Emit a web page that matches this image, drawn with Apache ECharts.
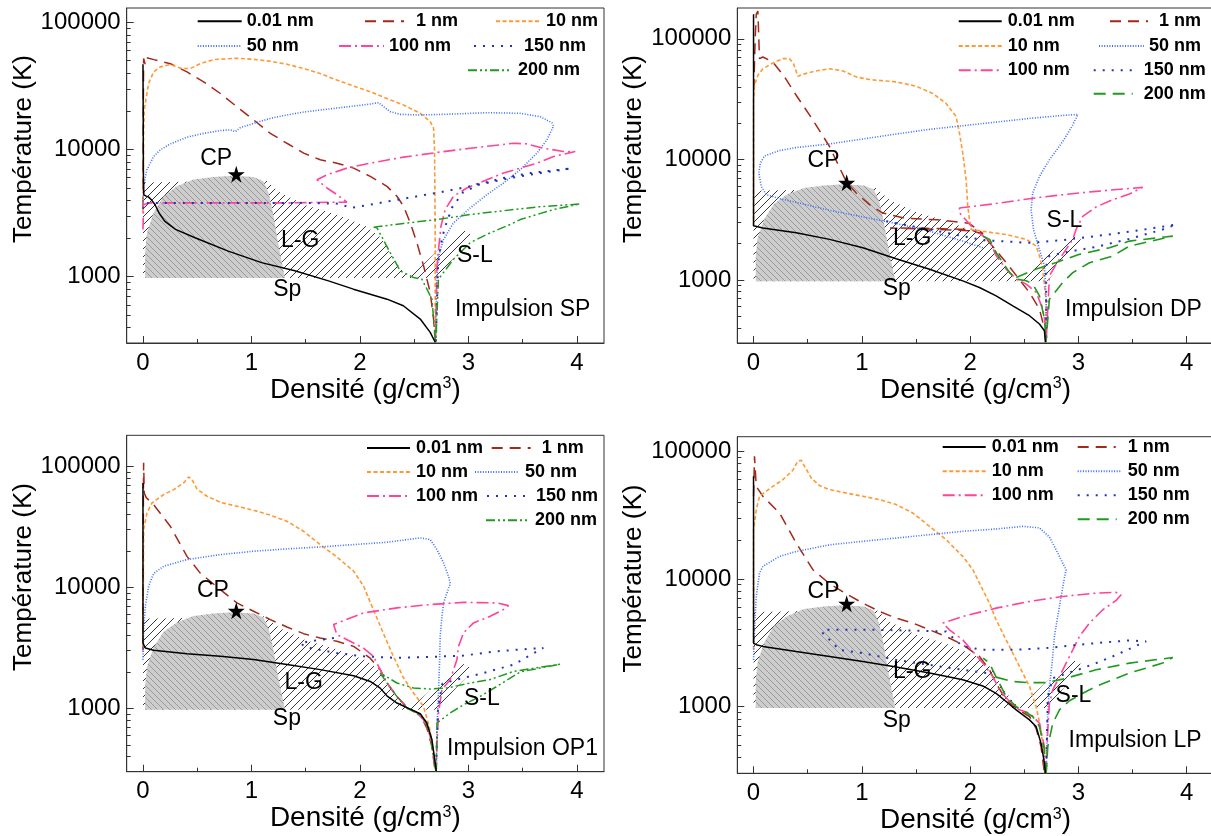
<!DOCTYPE html>
<html><head><meta charset="utf-8">
<script src="https://cdn.jsdelivr.net/npm/echarts@6/dist/echarts.min.js"></script>
<style>html,body{margin:0;padding:0;background:#fff}#c{width:1211px;height:836px}</style>
</head><body><div id="c"></div><script>
const FONT = "'Liberation Sans', Arial, sans-serif";
const X_TICKS = [0, 1, 2, 3, 4];
const X_MINOR = [0.5, 1.5, 2.5, 3.5];
const Y_TICKS = [1000, 10000, 100000];
const Y_MINOR = [400,500,600,700,800,900,2000,3000,4000,5000,6000,7000,8000,9000,20000,30000,40000,50000,60000,70000,80000,90000];
const SERIES_KEYS = ['0.01 nm','1 nm','10 nm','50 nm','100 nm','150 nm','200 nm'];

// Phase-diagram regions (density g/cm3, temperature K)
const spinodalRegion = [[0.02,975],[0.02,1545],[0.037,2210],[0.098,3180],[0.19,4290],[0.313,5130],[0.466,5800],[0.65,6080],[0.835,6220],[1.02,6080],[1.11,5630],[1.158,4560],[1.198,3180],[1.24,1960],[1.28,1290],[1.31,975]];
const liquidGasRegion = [[0,975],[0,5500],[0.5,5600],[1.13,5780],[1.255,4630],[1.5,3650],[1.78,3100],[2.06,2480],[2.2,2000],[2.28,1500],[2.36,1200],[2.45,975]];
const solidLiquidRegion = [[2.45,975],[2.71,975],[2.88,1450],[3.05,2100],[2.95,2330],[2.75,1700]];
const criticalPoint = [0.86, 6400];

// Panel 1 : Impulsion SP
const p1_001 = [[0.0,47000],[0.002,20000],[0.004,6000],[0.008,4400],[0.03,4300],[0.05,4240],[0.08,4000],[0.11,3690],[0.15,3150],[0.2,2730],[0.3,2350],[0.48,2020],[0.786,1585],[1.093,1288],[1.4,1110],[1.71,925],[1.94,796],[2.25,664],[2.4,589],[2.556,463],[2.648,364],[2.694,304]];
const p1_1 = [[0.0,3500],[0.003,20000],[0.006,52000],[0.02,47000],[0.03,53000],[0.1,51000],[0.252,47400],[0.406,40800],[0.559,34100],[0.713,27600],[0.866,21700],[1.02,17100],[1.174,13400],[1.327,11200],[1.481,9360],[1.634,8300],[1.788,7810],[1.942,7140],[2.095,6150],[2.249,5130],[2.341,4290],[2.402,3580],[2.464,2650],[2.525,1850],[2.587,1213],[2.648,750],[2.679,463],[2.694,304]];
const p1_10 = [[0,3170],[0.006,13400],[0.012,20500],[0.031,26000],[0.052,33100],[0.098,40800],[0.16,44700],[0.252,46600],[0.298,45200],[0.359,43400],[0.436,43400],[0.528,47400],[0.651,51000],[0.866,52300],[1.02,51300],[1.174,49500],[1.327,46900],[1.481,43400],[1.634,39600],[1.788,35200],[1.942,31600],[2.095,28500],[2.249,25200],[2.402,22400],[2.556,19300],[2.648,16600],[2.679,14700],[2.688,9940],[2.694,2210],[2.694,304]];
const p1_50 = [[0,3580],[0.006,5130],[0.022,6150],[0.037,6940],[0.068,7810],[0.098,8810],[0.16,9940],[0.252,11070],[0.406,12500],[0.559,13400],[0.713,14100],[0.805,14260],[0.851,13840],[0.897,14860],[1.02,16060],[1.174,17580],[1.327,18700],[1.481,19720],[1.634,20460],[1.788,21200],[1.942,21980],[2.095,22800],[2.172,23350],[2.218,21740],[2.28,19860],[2.372,18920],[2.556,18700],[2.863,19020],[3.171,19500],[3.478,19270],[3.662,18130],[3.77,16250],[3.785,15310],[3.723,11900],[3.631,9360],[3.478,6940],[3.324,5450],[3.171,4420],[3.017,3470],[2.863,2650],[2.771,1960],[2.725,1450],[2.71,1010],[2.697,304]];
const p1_100 = [[0,2350],[0.006,3690],[0.068,3800],[0.713,3800],[1.327,3800],[1.788,3850],[1.88,3850],[1.788,4420],[1.696,4980],[1.604,5780],[1.696,6330],[1.88,7140],[2.095,7810],[2.402,8710],[2.71,9480],[3.017,10240],[3.416,11200],[3.539,11070],[3.693,10240],[3.877,9640],[3.985,9640],[3.785,8810],[3.631,7810],[3.324,6530],[3.171,5780],[2.986,4980],[2.863,4290],[2.786,3370],[2.747,2490],[2.725,1640],[2.71,1213],[2.697,304]];
const p1_150 = [[0,3400],[0.01,3800],[0.5,3800],[1.0,3800],[1.5,3800],[1.8,3750],[1.92,3470],[2.1,3690],[2.4,4100],[2.71,4560],[3.0,5100],[3.32,5970],[3.57,6530],[3.95,7100],[3.7,6600],[3.4,6000],[3.1,5300],[2.95,4600],[2.85,3500],[2.78,2400],[2.74,1700],[2.72,1200],[2.7,304]];
const p1_200 = [[2.126,2450],[2.4,2620],[2.71,2810],[3.017,3080],[3.63,3530],[4.03,3730],[3.785,3370],[3.478,2810],[3.385,2570],[3.17,2150],[3.017,1850],[2.863,1370],[2.724,954],[2.7,304],[2.694,324],[2.664,665],[2.571,954],[2.494,984],[2.371,1110],[2.279,1545],[2.157,2420],[2.126,2450]];

// Panel 2 : Impulsion DP
const p2_001 = [[0,160000],[0,2820],[0.086,2700],[0.394,2460],[0.702,2170],[1.009,1850],[1.317,1500],[1.625,1225],[1.932,982],[2.086,865],[2.24,738],[2.394,610],[2.548,505],[2.64,431],[2.686,379],[2.695,304]];
const p2_1 = [[0.002,37500],[0.015,100000],[0.025,160000],[0.04,170000],[0.055,68400],[0.086,70600],[0.178,64200],[0.286,48300],[0.394,34000],[0.548,21200],[0.702,12760],[0.855,6560],[0.948,5260],[1.071,4210],[1.194,3590],[1.4,3250],[1.7,3150],[1.99,2950],[2.12,2420],[2.0,2560],[1.6,2640],[1.26,2700],[1.6,2680],[2.0,2620],[2.117,2380],[2.333,1394],[2.548,787],[2.64,573],[2.687,392],[2.7,304]];
const p2_10 = [[0,2790],[0,31000],[0.009,41200],[0.04,49800],[0.086,56500],[0.178,63000],[0.271,68400],[0.332,68400],[0.369,62200],[0.409,48900],[0.455,50800],[0.578,54100],[0.702,56500],[0.825,54100],[0.948,48300],[1.071,45900],[1.317,43900],[1.502,40400],[1.655,35200],[1.778,29100],[1.871,22600],[1.902,16400],[1.932,11250],[1.963,6780],[1.978,4080],[1.994,3170],[2.01,2620],[2.117,2535],[2.333,2380],[2.518,2170],[2.61,1910],[2.64,1585],[2.671,1230],[2.702,655],[2.7,304]];
const p2_50 = [[2.117,1850],[1.932,2100],[1.625,2540],[1.317,2940],[1.009,3330],[0.702,3780],[0.394,4400],[0.24,4720],[0.117,5090],[0.071,5970],[0.049,7690],[0.062,9290],[0.102,10690],[0.24,11830],[0.394,12530],[0.702,13430],[1.009,14760],[1.317,16220],[1.625,17740],[1.932,19010],[2.24,20370],[2.548,21860],[2.855,23140],[2.994,23590],[2.948,19290],[2.855,14040],[2.732,9910],[2.64,7220],[2.578,5260],[2.563,3830],[2.585,2620],[2.64,1790],[2.686,1306],[2.702,693],[2.702,304]];
const p2_100 = [[2.702,392],[2.671,573],[2.61,788],[2.518,923],[2.426,1017],[2.333,1230],[2.241,1585],[2.18,2100],[2.025,2700],[1.902,3600],[1.902,3950],[2.24,4300],[2.548,4720],[2.855,5090],[3.163,5430],[3.594,5860],[3.471,5160],[3.317,4630],[3.163,4030],[3.04,3370],[2.978,2620],[2.948,2170],[2.855,1630],[2.794,1347],[2.732,1080],[2.702,304]];
const p2_150 = [[1.225,3070],[1.502,2750],[1.778,2460],[2.117,2140],[2.548,2030],[2.855,2140],[3.163,2310],[3.471,2510],[3.902,2880],[3.778,2620],[3.471,2190],[3.163,1880],[2.855,1680],[2.732,1580],[2.702,1306],[2.702,304]];
const p2_200 = [[2.12,2300],[2.18,2170],[2.241,1680],[2.302,1394],[2.364,1150],[2.426,1016],[2.518,984],[2.579,923],[2.64,738],[2.687,474],[2.70,304],null,[2.426,1050],[2.61,1230],[2.795,1394],[3.01,1630],[3.287,1850],[3.471,2100],[3.871,2310],[3.471,1910],[3.317,1580],[3.102,1390],[2.948,1150],[2.855,951],[2.732,693],[2.70,304]];

// Panel 3 : Impulsion OP1
const p3_001 = [[0,72800],[0,3470],[0.022,3150],[0.098,3020],[0.406,2830],[0.713,2690],[1.02,2530],[1.327,2300],[1.634,2090],[1.942,1860],[2.095,1670],[2.187,1470],[2.249,1270],[2.341,1107],[2.464,987],[2.556,903],[2.617,757],[2.664,551],[2.694,353],[2.704,301]];
const p3_1 = [[0.0,3000],[0.004,60000],[0.006,107000],[0.012,60000],[0.03,55000],[0.098,48200],[0.252,31900],[0.406,18000],[0.528,13100],[0.713,9570],[0.866,7430],[1.02,6340],[1.174,5410],[1.327,4700],[1.481,4140],[1.634,3810],[1.788,3580],[1.942,3250],[2.095,2600],[2.187,2090],[2.249,1620],[2.341,1256],[2.433,1026],[2.556,887],[2.617,688],[2.664,485],[2.694,301]];
const p3_10 = [[0,3250],[0.006,30000],[0.037,41100],[0.083,49700],[0.19,58300],[0.283,64100],[0.375,72800],[0.421,81600],[0.452,77600],[0.498,65000],[0.59,56500],[0.713,50400],[0.866,46700],[1.02,43300],[1.174,39400],[1.327,35100],[1.481,29000],[1.634,22500],[1.788,17800],[1.942,13600],[2.034,10200],[2.11,7000],[2.2,4500],[2.3,2800],[2.4,1800],[2.494,1340],[2.586,1040],[2.64,700],[2.685,400],[2.7,301]];
const p3_50 = [[0,2520],[0.006,4470],[0.022,6970],[0.052,10200],[0.098,12970],[0.19,14920],[0.406,16940],[0.713,18620],[1.02,19850],[1.327,20750],[1.634,21540],[1.942,22530],[2.249,23560],[2.556,25580],[2.648,24790],[2.71,20480],[2.771,15890],[2.817,12330],[2.833,10720],[2.802,8980],[2.771,7420],[2.756,5760],[2.74,3940],[2.734,2370],[2.725,1430],[2.716,914],[2.704,301]];
const p3_100 = [[2.694,332],[2.648,588],[2.586,807],[2.525,916],[2.433,1007],[2.341,1257],[2.249,1620],[2.187,2090],[2.125,2690],[2.033,3150],[1.91,3580],[1.788,4060],[1.757,4920],[2.033,6140],[2.341,6760],[2.648,7200],[2.955,7510],[3.263,7430],[3.37,7060],[3.323,6550],[3.201,5760],[3.047,5080],[2.955,4200],[2.909,3250],[2.894,2520],[2.832,1730],[2.756,1430],[2.724,916],[2.71,485],[2.703,301]];
const p3_150 = [[1.76,3810],[1.6,3650],[1.45,3470],[1.5,3200],[1.79,2860],[2.033,2690],[2.341,2610],[2.648,2660],[2.955,2730],[3.263,2960],[3.447,3050],[3.69,3160],[3.416,2300],[3.14,1960],[2.894,1730],[2.76,1600],[2.72,1000],[2.70,301]];
const p3_200 = [[2.703,301],[2.69,332],[2.65,588],[2.6,800],[2.52,916],[2.43,1007],[2.34,1257],[2.25,1620],[2.187,1960],[2.341,1620],[2.494,1475],[2.648,1445],[2.802,1475],[3.017,1620],[3.201,1730],[3.416,2020],[3.846,2320],[3.478,2000],[3.263,1520],[3.109,1256],[2.955,1071],[2.832,916],[2.71,757],[2.703,301]];

// Panel 4 : Impulsion LP
const p4_001 = [[0,63600],[0,3140],[0.025,3050],[0.086,2960],[0.394,2700],[0.702,2470],[1.009,2250],[1.317,2040],[1.625,1830],[1.932,1620],[2.117,1450],[2.24,1270],[2.332,1095],[2.425,942],[2.548,786],[2.609,697],[2.655,515],[2.686,360],[2.695,300]];
const p4_1 = [[0,44400],[0.009,91400],[0.025,53100],[0.086,44400],[0.24,32800],[0.394,19100],[0.548,11800],[0.702,9170],[0.855,7650],[1.009,6460],[1.163,5560],[1.317,4930],[1.471,4510],[1.625,3990],[1.778,3540],[1.932,3050],[2.086,2470],[2.178,1940],[2.24,1520],[2.332,1130],[2.455,931],[2.548,836],[2.609,676],[2.655,485],[2.686,300]];
const p4_10 = [[0,2780],[0,24300],[0.025,34800],[0.055,44400],[0.178,53100],[0.271,59900],[0.363,71000],[0.409,83600],[0.44,85000],[0.48,74000],[0.532,61800],[0.609,53800],[0.702,50000],[0.855,47100],[1.009,44400],[1.163,41800],[1.317,38200],[1.471,32800],[1.625,25800],[1.778,20300],[1.932,15000],[2.025,11800],[2.086,9280],[2.178,6460],[2.24,4780],[2.332,3330],[2.425,2320],[2.486,1830],[2.548,1440],[2.609,1000],[2.655,656],[2.686,360],[2.692,300]];
const p4_50 = [[0,2320],[0.009,3990],[0.025,7290],[0.055,11100],[0.086,12540],[0.24,15000],[0.394,16400],[0.702,18500],[1.009,19700],[1.317,20900],[1.625,22200],[1.932,23600],[2.24,24600],[2.486,25800],[2.64,25100],[2.732,21300],[2.794,16900],[2.855,13300],[2.886,11800],[2.871,10200],[2.84,7290],[2.809,5080],[2.778,3540],[2.757,2190],[2.732,1440],[2.717,887],[2.702,300]];
const p4_100 = [[2.695,300],[2.686,485],[2.64,740],[2.548,887],[2.455,942],[2.363,1095],[2.271,1350],[2.209,1720],[2.117,2190],[2.025,2700],[1.932,3330],[1.809,3990],[1.748,4510],[1.932,5080],[2.24,5900],[2.548,6660],[2.855,7290],[3.163,7740],[3.348,7840],[3.394,7510],[3.348,6780],[3.225,5730],[3.102,4510],[3.009,3540],[2.948,2780],[2.886,2190],[2.825,1720],[2.763,1350],[2.732,1060],[2.717,656],[2.702,300]];
const p4_150 = [[2.148,1830],[1.932,1940],[1.625,2120],[1.317,2320],[1.009,2620],[0.794,2780],[0.702,3330],[0.64,3760],[0.64,3990],[1.163,3990],[1.778,3870],[1.932,2960],[2.117,2780],[2.394,2780],[2.702,2870],[2.855,2960],[3.163,3140],[3.471,3300],[3.625,3240],[3.317,2470],[3.163,2190],[3.009,1960],[2.855,1770],[2.763,1670],[2.717,1200],[2.702,300]];
const p4_200 = [[2.695,300],[2.686,457],[2.64,697],[2.578,836],[2.486,931],[2.425,1000],[2.332,1200],[2.24,1700],[2.178,2190],[2.12,2400],null,[2.24,1700],[2.394,1570],[2.548,1540],[2.702,1540],[2.855,1640],[3.163,1940],[3.471,2190],[3.871,2420],[3.778,2190],[3.471,1830],[3.163,1440],[3.04,1270],[2.917,1110],[2.825,942],[2.763,740],[2.717,485],[2.702,300]];

const panelSeries = [
  [p1_001, p1_1, p1_10, p1_50, p1_100, p1_150, p1_200],
  [p2_001, p2_1, p2_10, p2_50, p2_100, p2_150, p2_200],
  [p3_001, p3_1, p3_10, p3_50, p3_100, p3_150, p3_200],
  [p4_001, p4_1, p4_10, p4_50, p4_100, p4_150, p4_200]
];

// Text annotations: [text, density, temperature]
const notesP1 = [['CP',0.675,8450],['L-G',1.45,1930],['S-L',3.06,1460],['Sp',1.33,782],['Impulsion SP',3.5,546]];
const notesP2 = [['CP',0.646,9770],['L-G',1.465,2190],['S-L',2.871,3130],['Sp',1.323,848],['Impulsion DP',3.508,565]];
const notesP3 = [['CP',0.645,9440],['L-G',1.481,1640],['S-L',3.124,1194],['Sp',1.327,817],['Impulsion OP1',3.499,465]];
const notesP4 = [['CP',0.646,7890],['L-G',1.465,1880],['S-L',2.954,1220],['Sp',1.323,776],['Impulsion LP',3.523,541]];
const panelNotes = [notesP1, notesP2, notesP3, notesP4];

// ---------- layout / style ----------
const panels = [
  {left:126.7, top:8, width:477.3, height:335, ymax:130000, yPad:53},
  {left:737.3, top:8, width:476.5, height:335, ymax:180000, yPad:53},
  {left:126.7, top:435.3, width:477.3, height:336.4, ymax:180000, yPad:53},
  {left:737.3, top:436.7, width:476.5, height:336.6, ymax:130000, yPad:53}
];
const baseStyles = {
  '0.01 nm': {color:'#000000', type:'solid', width:1.5},
  '1 nm':    {color:'#a3291a', type:[11,7], width:1.5},
  '10 nm':   {color:'#ff9933', type:[4,2.5], width:1.6},
  '50 nm':   {color:'#3b6cff', type:[1,1.6], width:1.6},
  '100 nm':  {color:'#ff4499', type:[12,4,2,4], width:1.6},
  '150 nm':  {color:'#2233bb', type:[2,7], width:2},
  '200 nm':  {color:'#1f9a1f', type:[9,3,2,3,2,3], width:1.5}
};
const dashed200 = {color:'#1f9a1f', type:[12,7], width:1.6};
// legend layout: [key, lineLeft, rowCenterY, lineWidth, textPad]
const legendLayout = [
  [['0.01 nm',196.7,19.3,44,0],['1 nm',364,19.3,39,7],['10 nm',495,19.3,44,1],['50 nm',196.7,44,44,0],['100 nm',338,44,45,0],['150 nm',473,44,40,5],['200 nm',467,68.3,43,2]],
  [['0.01 nm',957.7,19.3,43,1],['1 nm',1109,19.3,38,6],['10 nm',957.7,44,44,0],['50 nm',1098,44,45,0],['100 nm',957.7,68.3,44,0],['150 nm',1092.7,68.3,40,5],['200 nm',1092.7,91.7,39,6]],
  [['0.01 nm',366,446,43,1],['1 nm',490.7,446,39,6],['10 nm',366,470,43,1],['50 nm',474,470,44,1],['100 nm',366,494,43,1],['150 nm',486,494,39,5],['200 nm',485,518.3,42,2]],
  [['0.01 nm',941.7,445,43,1],['1 nm',1076.7,445,38,7],['10 nm',941.7,469.3,43,1],['50 nm',1076.7,469.3,44,1],['100 nm',941.7,493.3,43,1],['150 nm',1076.7,493.3,40,5],['200 nm',1076.7,517.3,39,6]]
];

function makeHatch(size, color, dir, bg, lw) {
  const c = document.createElement('canvas');
  c.width = size; c.height = size;
  const g = c.getContext('2d');
  if (bg) { g.fillStyle = bg; g.fillRect(0, 0, size, size); }
  g.strokeStyle = color; g.lineWidth = lw;
  g.beginPath();
  for (const o of [-size, 0, size]) {
    if (dir === '/') { g.moveTo(o, size); g.lineTo(o + size, 0); }
    else { g.moveTo(o, 0); g.lineTo(o + size, size); }
  }
  g.stroke();
  return c;
}
const hatchWhite = {image: makeHatch(8, '#222', '/', null, 0.9), repeat: 'repeat'};
const hatchGrey = {image: makeHatch(6, '#8c8c8c', '\\', '#cdcdcd', 0.8), repeat: 'repeat'};

const STAR = 'path://M50,0 L61,35 L98,35 L68,57 L79,91 L50,70 L21,91 L32,57 L2,35 L39,35 Z';

const option = {animation:false, backgroundColor:'#fff', grid:[], xAxis:[], yAxis:[], series:[], legend:[]};

panels.forEach((P, i) => {
  option.grid.push({left:P.left, top:P.top, width:P.width, height:P.height, show:true,
    borderColor:'#333', borderWidth:1, backgroundColor:'transparent', containLabel:false, outerBoundsMode:'none'});
  const tickLine = {color:'#333', width:1};
  option.xAxis.push({gridIndex:i, type:'value', position:'bottom', min:-0.15, max:4.25,
    name:'Densité (g/cm{sup|3})', nameLocation:'middle', nameGap:30,
    nameTextStyle:{fontSize:28, color:'#000', fontFamily:FONT,
      rich:{sup:{fontSize:16, color:'#000', fontFamily:FONT, verticalAlign:'top', padding:[0,0,11,0]}}},
    axisLine:{show:true, onZero:false, lineStyle:tickLine},
    axisTick:{show:true, inside:true, length:7, customValues:X_TICKS, lineStyle:tickLine},
    axisLabel:{show:true, customValues:X_TICKS, fontSize:24, color:'#000', fontFamily:FONT, margin:8, formatter:v => String(v)},
    splitLine:{show:false}});
  option.xAxis.push({gridIndex:i, type:'value', position:'bottom', offset:0, min:-0.15, max:4.25,
    axisLine:{show:false, onZero:false}, axisTick:{show:true, inside:true, length:4, customValues:X_MINOR, lineStyle:tickLine},
    axisLabel:{show:false}, splitLine:{show:false}});
  option.yAxis.push({gridIndex:i, type:'log', logBase:10, position:'left', min:300, max:P.ymax,
    name:'Température (K)', nameLocation:'middle', nameGap:88, nameRotate:90,
    nameTextStyle:{fontSize:26, color:'#000', fontFamily:FONT, padding:[0,0,0,P.yPad]},
    axisLine:{show:true, onZero:false, lineStyle:tickLine},
    axisTick:{show:true, inside:true, length:7, customValues:Y_TICKS, lineStyle:tickLine},
    axisLabel:{show:true, customValues:Y_TICKS, fontSize:24, color:'#000', fontFamily:FONT, margin:6, formatter:v => String(Math.round(v))},
    splitLine:{show:false}, minorTick:{show:false}});
  option.yAxis.push({gridIndex:i, type:'log', logBase:10, position:'left', offset:0, min:300, max:P.ymax,
    axisLine:{show:false, onZero:false}, axisTick:{show:true, inside:true, length:4, customValues:Y_MINOR, lineStyle:tickLine},
    axisLabel:{show:false}, splitLine:{show:false}});

  const xi = 2 * i, yi = 2 * i;
  const region = (pts, fill, z) => ({type:'custom', xAxisIndex:xi, yAxisIndex:yi, silent:true, z:z,
    data:[0], renderItem:(params, api) => ({type:'polygon',
      shape:{points: pts.map(p => api.coord(p))}, style:{fill:fill, stroke:null}})});
  option.series.push(region(liquidGasRegion, hatchWhite, 1));
  option.series.push(region(solidLiquidRegion, hatchWhite, 1));
  option.series.push(region(spinodalRegion, hatchGrey, 2));

  SERIES_KEYS.forEach((key, k) => {
    let st = baseStyles[key];
    if (key === '200 nm' && (i === 1 || i === 3)) st = dashed200;
    option.series.push({type:'line', name:(i + 1) + '|' + key, xAxisIndex:xi, yAxisIndex:yi,
      data: panelSeries[i][k].map(d => d === null ? ['-', '-'] : d),
      showSymbol:false, symbol:'none', connectNulls:false, silent:true, z:3 + (k === 0 ? 0.5 : 0),
      lineStyle:{color:st.color, type:st.type, width:st.width}, itemStyle:{color:st.color}});
  });

  option.series.push({type:'scatter', xAxisIndex:xi, yAxisIndex:yi, silent:true, z:6,
    data:[criticalPoint], symbol:STAR, symbolSize:17, itemStyle:{color:'#000', opacity:1}});
  option.series.push({type:'scatter', xAxisIndex:xi, yAxisIndex:yi, silent:true, z:6,
    data: panelNotes[i].map(n => ({name:n[0], value:[n[1], n[2]]})), symbolSize:1,
    itemStyle:{color:'rgba(0,0,0,0)', opacity:1},
    label:{show:true, position:'inside', formatter:'{b}', fontSize:23, color:'#000', opacity:1, fontFamily:FONT}});

  legendLayout[i].forEach(L => {
    option.legend.push({left:L[1], top:L[2] - 7, data:[(i + 1) + '|' + L[0]], itemWidth:L[3], itemHeight:14,
      itemGap:0, padding:0, selectedMode:false, formatter: n => n.split('|')[1],
      itemStyle:{opacity:0, borderWidth:0},
      textStyle:{fontSize:18, fontWeight:'bold', color:'#000', fontFamily:FONT, lineHeight:14, padding:[0,0,0,L[4]]}});
  });
});

const chart = echarts.init(document.getElementById('c'), null, {renderer:'canvas'});
chart.setOption(option);
</script></body></html>
